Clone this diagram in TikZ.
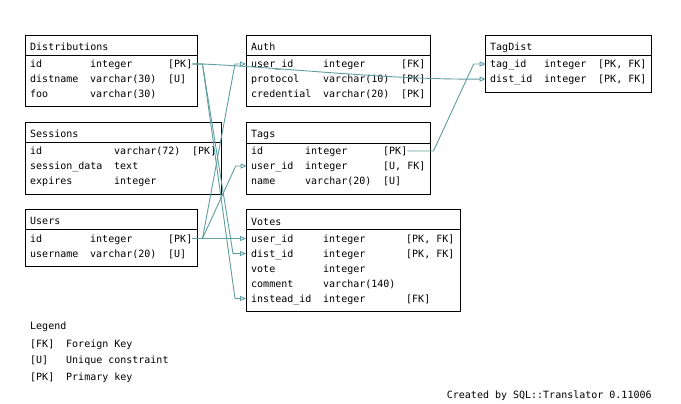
\documentclass[tikz,border=0pt]{standalone}
\usepackage{fontspec}
\setmonofont{DejaVu Sans Mono}
\usetikzlibrary{arrows.meta,calc}
\definecolor{linkcol}{HTML}{5F9EA0}
\begin{document}
\begin{tikzpicture}[x=1pt,y=-1pt,
  cell/.style={anchor=base west, inner sep=0pt, text height=7pt, text depth=0pt,
               font=\ttfamily\fontsize{10}{12}\selectfont},
  tblpart/.style={draw=black, line width=0.9pt, anchor=north west,
                  inner sep=0pt, outer sep=0pt},
  link/.style={draw=linkcol, line width=0.9pt,
               -{Triangle[open, length=6pt, width=5pt]}},
]
\fill[white] (0,0) rectangle (681,404);
\useasboundingbox (0,0) rectangle (681,404);

% ---------- Distributions ----------
\node[tblpart, minimum width=171.3pt, minimum height=19.7pt] (distH) at (25.7,35.3) {};
\node[tblpart, minimum width=171.3pt, minimum height=51.7pt] (dist) at (25.7,55) {};
\node[cell] (distT) at (30,50.5) {Distributions};
\node[cell] (dId)   at (30,67.5) {id};
\node[cell]         at (90,67.5) {integer};
\node[cell] (dPK)   at (168,67.5) {[PK]};
\node[cell] (dName) at (30,82.5) {distname};
\node[cell]         at (90,82.5) {varchar(30)};
\node[cell]         at (168,82.5) {[U]};
\node[cell] (dFoo)  at (30,97.5) {foo};
\node[cell]         at (90,97.5) {varchar(30)};

% ---------- Auth ----------
\node[tblpart, minimum width=184pt, minimum height=19.7pt] (authH) at (246,35.3) {};
\node[tblpart, minimum width=184pt, minimum height=51.7pt] (auth) at (246,55) {};
\node[cell] (authT) at (251,50.5) {Auth};
\node[cell] (aUid)  at (251,67.5) {user\_id};
\node[cell]         at (323,67.5) {integer};
\node[cell]         at (401,67.5) {[FK]};
\node[cell] (aProt) at (251,82.5) {protocol};
\node[cell]         at (323,82.5) {varchar(10)};
\node[cell]         at (401,82.5) {[PK]};
\node[cell] (aCred) at (251,97.5) {credential};
\node[cell]         at (323,97.5) {varchar(20)};
\node[cell]         at (401,97.5) {[PK]};

% ---------- TagDist ----------
\node[tblpart, minimum width=165.3pt, minimum height=19.7pt] (tagdistH) at (485.7,35.3) {};
\node[tblpart, minimum width=165.3pt, minimum height=37pt] (tagdist) at (485.7,55) {};
\node[cell] (tdT)    at (490,50.5) {TagDist};
\node[cell] (tdTag)  at (490,67.5) {tag\_id};
\node[cell]          at (544,67.5) {integer};
\node[cell]          at (598,67.5) {[PK, FK]};
\node[cell] (tdDist) at (490,82.5) {dist\_id};
\node[cell]          at (544,82.5) {integer};
\node[cell]          at (598,82.5) {[PK, FK]};

% ---------- Sessions ----------
\node[tblpart, minimum width=195.3pt, minimum height=20pt] (sessH) at (25.7,122.3) {};
\node[tblpart, minimum width=195.3pt, minimum height=51.7pt] (sess) at (25.7,142.3) {};
\node[cell] (sessT) at (30,137.5) {Sessions};
\node[cell] (sId)   at (30,154.5) {id};
\node[cell]         at (114,154.5) {varchar(72)};
\node[cell]         at (192,154.5) {[PK]};
\node[cell] (sData) at (30,169.5) {session\_data};
\node[cell]         at (114,169.5) {text};
\node[cell] (sExp)  at (30,184.5) {expires};
\node[cell]         at (114,184.5) {integer};

% ---------- Tags ----------
\node[tblpart, minimum width=183.3pt, minimum height=21pt] (tagsH) at (246.7,122.3) {};
\node[tblpart, minimum width=183.3pt, minimum height=50.7pt] (tags) at (246.7,143.3) {};
\node[cell] (tagsT) at (251,137.5) {Tags};
\node[cell] (tId)   at (251,154.5) {id};
\node[cell]         at (305,154.5) {integer};
\node[cell] (tPK)   at (383,154.5) {[PK]};
\node[cell] (tUid)  at (251,169.5) {user\_id};
\node[cell]         at (305,169.5) {integer};
\node[cell]         at (383,169.5) {[U, FK]};
\node[cell] (tName) at (251,184.5) {name};
\node[cell]         at (305,184.5) {varchar(20)};
\node[cell]         at (383,184.5) {[U]};

% ---------- Users ----------
\node[tblpart, minimum width=171.3pt, minimum height=19.6pt] (usersH) at (25.7,209.7) {};
\node[tblpart, minimum width=171.3pt, minimum height=36.7pt] (users) at (25.7,229.3) {};
\node[cell] (usersT) at (30,224.5) {Users};
\node[cell] (uId)    at (30,242) {id};
\node[cell]          at (90,242) {integer};
\node[cell] (uPK)    at (168,242) {[PK]};
\node[cell] (uName)  at (30,257) {username};
\node[cell]          at (90,257) {varchar(20)};
\node[cell]          at (168,257) {[U]};

% ---------- Votes ----------
\node[tblpart, minimum width=214pt, minimum height=20pt] (votesH) at (246,209.3) {};
\node[tblpart, minimum width=214pt, minimum height=81.7pt] (votes) at (246,229.3) {};
\node[cell] (votesT) at (251,225) {Votes};
\node[cell] (vUid)   at (251,242) {user\_id};
\node[cell]          at (323,242) {integer};
\node[cell]          at (406,242) {[PK, FK]};
\node[cell] (vDist)  at (251,257) {dist\_id};
\node[cell]          at (323,257) {integer};
\node[cell]          at (406,257) {[PK, FK]};
\node[cell] (vVote)  at (251,272) {vote};
\node[cell]          at (323,272) {integer};
\node[cell] (vCom)   at (251,287) {comment};
\node[cell]          at (323,287) {varchar(140)};
\node[cell] (vInst)  at (251,302) {instead\_id};
\node[cell]          at (323,302) {integer};
\node[cell]          at (406,302) {[FK]};

% ---------- Legend and credit ----------
\node[cell] (legT)  at (30,329.5) {Legend};
\node[cell] (legFK) at (30,347) {[FK]};
\node[cell]         at (66,347) {Foreign Key};
\node[cell] (legU)  at (30,363.5) {[U]};
\node[cell]         at (66,363.5) {Unique constraint};
\node[cell] (legPK) at (30,380.5) {[PK]};
\node[cell]         at (66,380.5) {Primary key};
\node[cell] (credit) at (446.7,398.5) {Created by SQL::Translator 0.11006};

% ---------- Foreign key links ----------
% Distributions.id -> TagDist.dist_id
\draw[link] (dPK.east) -- ++(10,0)
  .. controls (290,68) and (390,80) .. (tagdist.west |- tdDist);
% Distributions.id -> Votes.dist_id
\draw[link] (dPK.east) -- ++(10,0)
  -- ($(votes.west |- vDist)+(-13,0)$) -- (votes.west |- vDist);
% Distributions.id -> Votes.instead_id
\draw[link] (dPK.east) -- ++(10,0)
  -- ($(votes.west |- vInst)+(-11,0)$) -- (votes.west |- vInst);
% Users.id -> Auth.user_id
\draw[link] (uPK.east) -- ++(10,0)
  -- ($(auth.west |- aUid)+(-11,0)$) -- (auth.west |- aUid);
% Users.id -> Tags.user_id
\draw[link] (uPK.east) -- ++(10,0)
  -- ($(tags.west |- tUid)+(-11,0)$) -- (tags.west |- tUid);
% Users.id -> Votes.user_id
\draw[link] (uPK.east) -- (votes.west |- vUid);
% Tags.id -> TagDist.tag_id
\draw[link] (tPK.east) -- ++(26,0)
  -- ($(tagdist.west |- tdTag)+(-12,0)$) -- (tagdist.west |- tdTag);
\end{tikzpicture}
\end{document}
